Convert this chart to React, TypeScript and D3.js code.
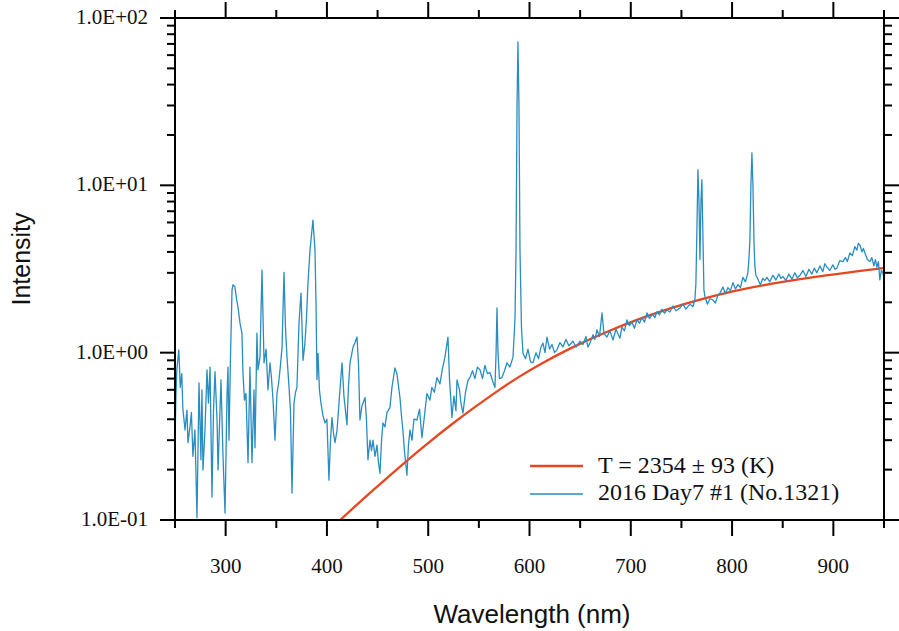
import React from 'react';
import * as d3 from 'd3';

// ---- data ----
const spectrumWavelength = [
  250.0, 250.8, 251.8, 253.8, 255.2, 256.7, 257.7, 259.9, 261.8, 262.8, 264.8, 266.2, 267.7, 269.7, 271.7, 273.7,
  275.6, 276.6, 277.6, 279.6, 281.6, 283.0, 284.6, 286.5, 288.0, 289.5, 291.5, 292.5, 295.4, 297.4, 299.4, 301.3,
  302.3, 303.3, 304.8, 306.3, 307.3, 309.2, 310.7, 312.2, 314.2, 316.1, 317.1, 318.6, 320.1, 322.1, 324.0, 326.0,
  328.0, 329.0, 330.9, 331.9, 333.9, 335.9, 337.9, 339.9, 341.8, 343.8, 345.3, 346.8, 348.7, 350.7, 352.2, 353.7,
  355.7, 357.6, 359.1, 360.6, 362.6, 364.0, 365.5, 367.5, 369.0, 370.4, 372.4, 374.4, 376.4, 378.3, 379.8, 381.3,
  383.3, 386.2, 388.2, 389.2, 390.2, 391.2, 392.6, 394.1, 396.1, 398.1, 400.0, 402.0, 403.5, 405.0, 406.5, 408.0,
  410.0, 412.4, 414.9, 416.8, 419.8, 421.2, 422.8, 425.8, 427.8, 429.7, 431.2, 432.6, 434.6, 437.6, 439.0, 440.5,
  442.5, 444.0, 445.5, 447.5, 449.4, 450.9, 452.4, 453.9, 455.3, 457.3, 459.3, 462.2, 464.2, 467.1, 469.1, 472.1,
  473.6, 475.0, 476.5, 479.0, 480.5, 482.0, 484.0, 485.9, 488.9, 491.4, 493.8, 496.3, 498.7, 501.7, 503.6, 506.1,
  508.6, 511.6, 514.0, 516.5, 519.5, 521.0, 523.4, 525.4, 527.4, 528.4, 530.9, 532.3, 534.3, 536.8, 539.2, 541.2,
  543.7, 546.1, 548.6, 551.1, 553.6, 556.0, 558.5, 561.0, 563.5, 565.9, 567.0, 567.9, 568.9, 570.3, 572.8, 575.3,
  577.8, 580.7, 583.7, 585.7, 586.7, 587.7, 588.6, 589.6, 590.6, 592.1, 593.6, 596.1, 598.5, 601.0, 603.4, 606.4,
  608.9, 611.3, 613.3, 615.3, 617.3, 619.8, 622.2, 624.7, 627.1, 630.1, 633.0, 636.0, 638.9, 642.9, 645.9, 649.8,
  652.8, 655.7, 657.7, 659.7, 662.7, 664.6, 666.6, 669.1, 671.6, 673.5, 676.5, 679.4, 682.4, 685.4, 689.3, 691.3,
  693.7, 696.2, 698.7, 701.1, 703.6, 706.1, 708.6, 711.0, 713.5, 716.0, 718.4, 721.4, 723.8, 725.8, 728.3, 730.7,
  733.2, 735.7, 738.6, 741.6, 744.5, 748.5, 751.4, 754.4, 758.4, 761.3, 763.3, 764.3, 765.3, 766.3, 767.3, 768.3,
  769.3, 770.2, 771.2, 772.2, 773.2, 775.6, 778.1, 781.1, 783.5, 786.0, 788.0, 791.0, 793.4, 795.9, 798.4, 800.9,
  803.3, 805.8, 808.3, 810.7, 813.2, 815.6, 816.6, 817.6, 818.6, 819.6, 820.6, 821.6, 822.5, 823.5, 825.5, 827.9,
  830.4, 832.4, 834.4, 837.3, 840.3, 843.2, 846.2, 848.2, 850.2, 853.1, 856.1, 859.1, 862.0, 864.5, 867.0, 870.0,
  872.9, 875.9, 878.8, 881.2, 883.7, 886.7, 889.6, 891.6, 893.6, 896.5, 899.5, 901.5, 903.5, 906.4, 909.4, 911.9,
  913.8, 916.3, 918.8, 921.2, 923.2, 924.7, 926.2, 928.2, 929.6, 931.1, 933.6, 936.0, 938.0, 940.0, 941.5, 943.0,
  944.5, 945.9, 947.4, 948.9, 950.0,
];
const spectrumIntensity = [
  0.28, 0.52, 0.79, 1.04, 0.62, 0.75, 0.47, 0.345, 0.454, 0.29, 0.36, 0.44, 0.24, 0.345, 0.103, 0.66,
  0.229, 0.6, 0.199, 0.345, 0.79, 0.5, 0.82, 0.137, 0.45, 0.77, 0.396, 0.199, 0.687, 0.24, 0.11, 0.54,
  0.82, 0.3, 0.95, 2.37, 2.55, 2.47, 2.1, 1.87, 1.5, 1.31, 0.76, 0.52, 0.57, 0.22, 0.82, 0.22,
  0.6, 0.27, 1.31, 0.79, 0.94, 3.12, 0.87, 1.05, 0.6, 0.87, 0.7, 0.52, 0.3, 0.57, 0.65, 0.79,
  1.08, 3.02, 1.4, 0.94, 0.62, 0.45, 0.145, 0.5, 0.58, 0.62, 1.5, 2.27, 0.9, 1.14, 1.6, 2.62,
  4.1, 6.2, 4.1, 2.0, 0.69, 0.99, 0.6, 0.5, 0.42, 0.38, 0.4, 0.173, 0.3, 0.41, 0.33, 0.29,
  0.345, 0.55, 0.87, 0.55, 0.37, 0.62, 0.87, 1.08, 1.15, 1.24, 0.85, 0.396, 0.48, 0.54, 0.4, 0.229,
  0.3, 0.26, 0.3, 0.24, 0.28, 0.22, 0.19, 0.3, 0.38, 0.36, 0.44, 0.47, 0.62, 0.81, 0.75, 0.54,
  0.42, 0.345, 0.26, 0.185, 0.28, 0.345, 0.3, 0.4, 0.396, 0.46, 0.31, 0.42, 0.57, 0.52, 0.62, 0.58,
  0.71, 0.65, 0.8, 0.94, 1.24, 0.7, 0.41, 0.55, 0.45, 0.687, 0.6, 0.5, 0.435, 0.58, 0.68, 0.71,
  0.78, 0.7, 0.82, 0.79, 0.7, 0.84, 0.75, 0.76, 0.68, 0.62, 1.0, 1.85, 1.0, 0.7, 0.71, 0.78,
  0.87, 0.82, 0.94, 1.6, 4.1, 30, 72, 30, 4.1, 1.4, 0.99, 0.92, 1.05, 0.88, 0.87, 1.0,
  0.92, 1.08, 1.14, 1.0, 1.24, 1.05, 1.12, 1.0, 1.04, 1.15, 1.08, 1.2, 1.1, 1.17, 1.08, 1.17,
  1.12, 1.25, 1.08, 1.14, 1.28, 1.2, 1.37, 1.25, 1.73, 1.3, 1.24, 1.35, 1.19, 1.38, 1.22, 1.42,
  1.35, 1.57, 1.45, 1.52, 1.4, 1.57, 1.5, 1.62, 1.52, 1.73, 1.6, 1.7, 1.62, 1.76, 1.68, 1.82,
  1.72, 1.8, 1.75, 1.9, 1.78, 1.85, 1.95, 1.82, 1.95, 1.88, 2.07, 2.6, 5.5, 12.4, 8.2, 3.6,
  8.0, 10.8, 5.0, 2.37, 2.16, 1.95, 2.1, 2.07, 1.98, 2.2, 2.27, 2.47, 2.25, 2.45, 2.35, 2.62,
  2.4, 2.55, 2.45, 2.82, 2.65, 3.0, 3.6, 4.7, 10, 15.6, 10, 4.7, 3.3, 2.9, 2.75, 2.55,
  2.78, 2.7, 2.82, 2.65, 2.9, 2.72, 2.95, 2.78, 2.85, 2.7, 2.95, 2.75, 3.0, 2.8, 2.9, 3.1,
  2.85, 3.15, 2.95, 3.2, 3.0, 3.3, 3.05, 3.4, 3.25, 3.1, 3.35, 3.15, 3.2, 3.55, 3.5, 3.7,
  3.5, 3.95, 3.8, 4.3, 4.1, 4.5, 4.4, 4.0, 4.2, 3.95, 3.6, 3.5, 3.7, 3.3, 3.6, 3.25,
  3.5, 2.72, 3.1, 3.0, 2.8,
];
const fitWavelength = [413, 445, 479, 500, 524, 546, 568, 590, 610, 640, 670, 709, 738, 768, 800, 837, 890, 949];
const fitIntensity = [0.1, 0.15, 0.227, 0.289, 0.377, 0.473, 0.589, 0.721, 0.851, 1.062, 1.288, 1.6, 1.84, 2.08, 2.33, 2.58, 2.89, 3.2];

const xTickValues = [300, 400, 500, 600, 700, 800, 900];
const xMinorTickValues = [250, 350, 450, 550, 650, 750, 850, 950];
const yTickValues = [0.1, 1, 10, 100];
const yTickLabels = ['1.0E-01', '1.0E+00', '1.0E+01', '1.0E+02'];
const legendLabels = ['T = 2354 ± 93 (K)', '2016 Day7 #1 (No.1321)'];
const xTitle = 'Wavelength (nm)';
const yTitle = 'Intensity';

const BLUE = '#2a8dc0';
const RED = '#e8461e';

export default function App() {
  const W = 899;
  const H = 631;
  const L = 175, R = 884, T = 18, B = 520;
  const x = d3.scaleLinear().domain([250, 950]).range([L, R]);
  const y = d3.scaleLog().domain([0.1, 100]).range([B, T]);

  const yMinor: number[] = [];
  [0.1, 1, 10].forEach((d) => {
    for (let k = 2; k <= 9; k++) yMinor.push(d * k);
  });

  const spec = spectrumWavelength.map((w, i) => [w, spectrumIntensity[i]] as [number, number]);
  const fit = fitWavelength.map((w, i) => [w, fitIntensity[i]] as [number, number]);
  const lineGen = d3.line<[number, number]>().x((d) => x(d[0])).y((d) => y(d[1]));
  const fitGen = d3
    .line<[number, number]>()
    .x((d) => x(d[0]))
    .y((d) => y(d[1]))
    .curve(d3.curveBasis);

  const serif = '"Liberation Serif", "Times New Roman", serif';
  const sans = '"Liberation Sans", Arial, Helvetica, sans-serif';
  const axisStroke = 2;

  return (
    <svg width={W} height={H} style={{ position: 'absolute', left: 0, top: 0, background: '#fff' }}>
      <defs>
        <clipPath id="plotClip">
          <rect x={L} y={T} width={R - L} height={B - T} />
        </clipPath>
      </defs>
      <rect x={0} y={0} width={W} height={H} fill="#fff" />
      <g clipPath="url(#plotClip)">
        <path d={fitGen(fit) || ''} fill="none" stroke={RED} strokeWidth={2.3} />
        <path d={lineGen(spec) || ''} fill="none" stroke={BLUE} strokeWidth={1.3} strokeLinejoin="round" />
      </g>

      {/* frame */}
      <rect x={L} y={T} width={R - L} height={B - T} fill="none" stroke="#000" strokeWidth={axisStroke} />

      {/* x ticks */}
      {xTickValues.map((v) => (
        <g key={'xt' + v}>
          <line x1={x(v)} x2={x(v)} y1={B} y2={B + 16} stroke="#000" strokeWidth={axisStroke} />
          <line x1={x(v)} x2={x(v)} y1={T} y2={T - 16} stroke="#000" strokeWidth={axisStroke} />
          <text x={x(v)} y={573} textAnchor="middle" fontFamily={serif} fontSize={21} fill="#111">
            {v}
          </text>
        </g>
      ))}
      {xMinorTickValues.map((v) => (
        <g key={'xm' + v}>
          <line x1={x(v)} x2={x(v)} y1={B} y2={B + 8} stroke="#000" strokeWidth={axisStroke} />
          <line x1={x(v)} x2={x(v)} y1={T} y2={T - 8} stroke="#000" strokeWidth={axisStroke} />
        </g>
      ))}

      {/* y ticks */}
      {yTickValues.map((v, i) => (
        <g key={'yt' + v}>
          <line x1={L - 15} x2={L} y1={y(v)} y2={y(v)} stroke="#000" strokeWidth={axisStroke} />
          <line x1={R} x2={R + 15} y1={y(v)} y2={y(v)} stroke="#000" strokeWidth={axisStroke} />
          <text x={148} y={y(v) + 6} textAnchor="end" fontFamily={serif} fontSize={21} fill="#111">
            {yTickLabels[i]}
          </text>
        </g>
      ))}
      {yMinor.map((v) => (
        <g key={'ym' + v}>
          <line x1={L - 8} x2={L} y1={y(v)} y2={y(v)} stroke="#000" strokeWidth={axisStroke} />
          <line x1={R} x2={R + 8} y1={y(v)} y2={y(v)} stroke="#000" strokeWidth={axisStroke} />
        </g>
      ))}

      {/* axis titles */}
      <text x={532} y={623} textAnchor="middle" fontFamily={sans} fontSize={26} fill="#111">
        {xTitle}
      </text>
      <text
        transform={`translate(30, 259) rotate(-90)`}
        textAnchor="middle"
        fontFamily={sans}
        fontSize={25}
        fill="#111"
      >
        {yTitle}
      </text>

      {/* legend */}
      <line x1={530} x2={583} y1={466} y2={466} stroke={RED} strokeWidth={2.3} />
      <text x={598} y={473} fontFamily={serif} fontSize={24} fill="#111">
        {legendLabels[0]}
      </text>
      <line x1={530} x2={583} y1={494} y2={494} stroke={BLUE} strokeWidth={1.5} />
      <text x={598} y={500} fontFamily={serif} fontSize={24} fill="#111">
        {legendLabels[1]}
      </text>
    </svg>
  );
}
